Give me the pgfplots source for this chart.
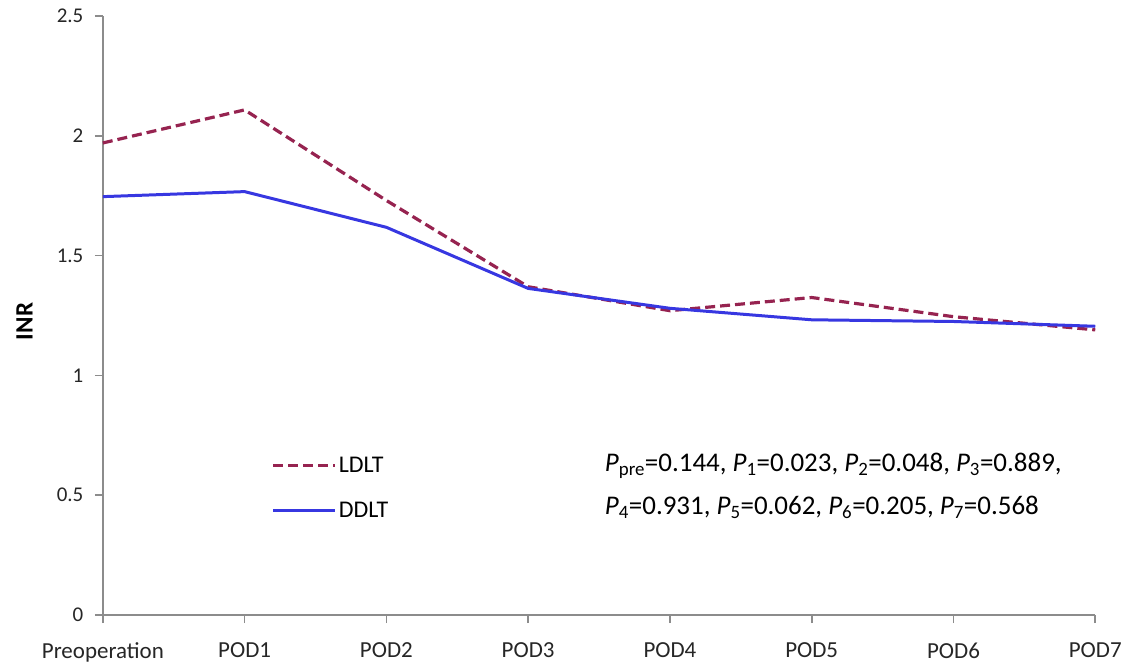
\documentclass[border=0pt]{standalone}
\usepackage{fontspec}
\setmainfont{Carlito}
\usepackage{pgfplots}
\pgfplotsset{compat=1.18}
\definecolor{ldlt}{RGB}{150,35,80}
\definecolor{ddlt}{RGB}{55,55,225}
\definecolor{axgray}{RGB}{140,140,140}
\begin{document}
\begin{tikzpicture}
\begin{axis}[
  scale only axis, width=994pt, height=600pt,
  xmin=0, xmax=7, ymin=0, ymax=2.5,
  axis x line*=bottom, axis y line*=left,
  axis line style={axgray, line width=1.6pt, -},
  xtick={0,...,7},
  xticklabels={Preoperation,POD1,POD2,POD3,POD4,POD5,POD6,POD7},
  ytick={0,0.5,1,1.5,2,2.5},
  tick align=outside, major tick length=8pt,
  tick style={axgray, line width=1.6pt},
  /pgf/number format/assume math mode=true,
  ticklabel style={text=black!85},
  xticklabel style={font=\fontsize{23}{27}\selectfont, yshift=-16pt},
  yticklabel style={font=\fontsize{21}{25}\selectfont, xshift=-8pt},
  ylabel={\bfseries INR},
  ylabel style={font=\fontsize{25}{29}\selectfont,
    at={(axis description cs:-0.079,0.49)}, anchor=center},
  legend style={draw=none, fill=none, at={(0.170,0.267)}, anchor=north west,
    font=\fontsize{24}{28}\selectfont, row sep=24pt, inner sep=0pt},
  legend cell align=left,
  legend image code/.code={\draw[#1] (0pt,0pt) -- (62pt,0pt);},
  clip=false,
]
\addplot[ldlt, line width=3.2pt, dash pattern=on 10pt off 5pt] coordinates {
  (0,1.97) (1,2.108) (2,1.73) (3,1.37) (4,1.27) (5,1.325) (6,1.245) (7,1.19)};
\addlegendentry{LDLT}
\addplot[ddlt, line width=3pt] coordinates {
  (0,1.746) (1,1.767) (2,1.618) (3,1.363) (4,1.28) (5,1.232) (6,1.225) (7,1.205)};
\addlegendentry{DDLT}
\node[anchor=base west, align=left, font=\fontsize{27}{43}\selectfont, inner sep=0pt]
  at (axis cs:3.54,0.42) {\textit{P}\textsubscript{pre}=0.144, \textit{P}\textsubscript{1}=0.023, \textit{P}\textsubscript{2}=0.048, \textit{P}\textsubscript{3}=0.889,\\
  \textit{P}\textsubscript{4}=0.931, \textit{P}\textsubscript{5}=0.062, \textit{P}\textsubscript{6}=0.205, \textit{P}\textsubscript{7}=0.568};
\end{axis}
% page extent: margins around the axis box
\path (current axis.south west) ++(-103pt,-50pt) coordinate (bbsw);
\path (current axis.north east) ++(28pt,16pt) coordinate (bbne);
\useasboundingbox (bbsw) rectangle (bbne);
\end{tikzpicture}
\end{document}
